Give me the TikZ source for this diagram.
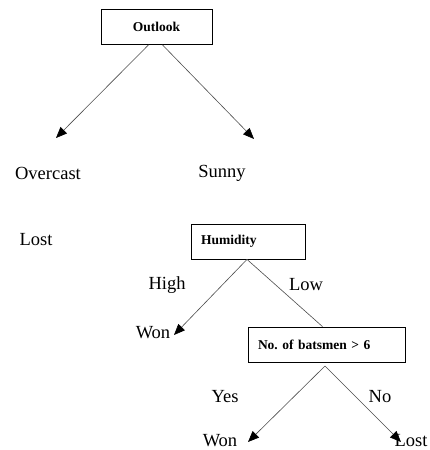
\documentclass[tikz,border=0pt]{standalone}
\usepackage{fontspec}
\setmainfont{Liberation Serif}
\usetikzlibrary{arrows.meta,positioning}

\begin{document}
\begin{tikzpicture}[
                x=1pt, y=-1pt,
                every node/.style={inner sep=1pt},
                testbox/.style={draw=black, line width=0.8pt, minimum height=35pt, inner xsep=10pt, font=\fontsize{13.5}{16}\selectfont\bfseries, align=left},
                leaf/.style={font=\fontsize{18.5}{22}\selectfont},
                branch/.style={font=\fontsize{18.5}{22}\selectfont},
                edge_arr/.style={draw=black!70, line width=0.6pt, -{Triangle[length=11pt,width=9pt,color=black]}},
                edge_ln/.style={draw=black!70, line width=0.6pt}
            ]
                \useasboundingbox (0,0) rectangle (430,450);

                % Root test
                \node[testbox, minimum width=111pt, align=center] (outlook) at (156.5,27) {Outlook};
                \node[leaf] (overcast) at (48,173) {Overcast};
                \node[leaf] (sunny) at (222,173) {Sunny};
                \coordinate (ovtip) at (56,138);
                \coordinate (sutip) at (254,139);
                \draw[edge_arr] ([xshift=-8pt]outlook.south) -- (ovtip);
                \draw[edge_arr] ([xshift=6pt]outlook.south) -- (sutip);

                % Overcast leaf
                \node[leaf] (lost1) at (36,240) {Lost};

                % Humidity test
                \node[testbox, text width=94pt] (humid) at (248,241.5) {Humidity};
                \node[branch] (high) at (167,285) {High};
                \node[branch] (low) at (306,285) {Low};
                \node[leaf] (won1) at (153,333) {Won};
                \coordinate (wontip) at (174,335);
                \draw[edge_arr] ([xshift=-1pt]humid.south) -- (wontip);

                % Batsmen test
                \node[testbox, text width=137pt] (bats) at (326.5,344.5) {No.\ of batsmen > 6};
                \draw[edge_ln] ([xshift=-1pt]humid.south) -- ([xshift=-4pt]bats.north);
                \node[branch] (yes) at (225,397) {Yes};
                \node[branch] (no) at (380,397) {No};
                \node[leaf] (won2) at (220,441) {Won};
                \node[leaf] (lost2) at (411,441) {Lost};
                \coordinate (yestip) at (248,442);
                \coordinate (notip) at (401,442);
                \coordinate (batsfoot) at (325,366);
                \draw[edge_arr] (batsfoot) -- (yestip);
                \draw[edge_arr] (batsfoot) -- (notip);
            \end{tikzpicture}
\end{document}
